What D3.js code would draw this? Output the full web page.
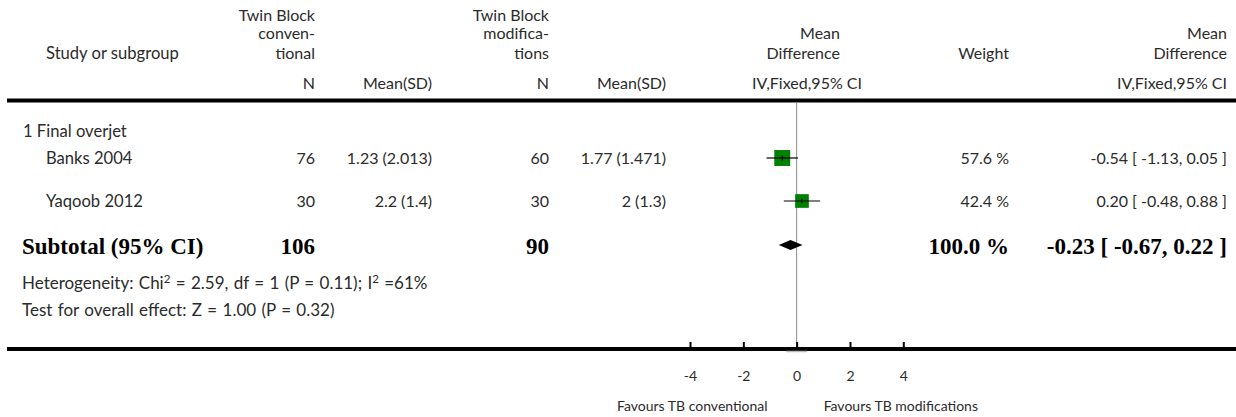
<!DOCTYPE html>
<html>
<head>
<meta charset="utf-8">
<script src="https://cdn.jsdelivr.net/npm/d3@7"></script>
<style>
  html, body { margin: 0; padding: 0; background: #fff; }
  svg text { font-family: Lato, "Open Sans", sans-serif; }
</style>
</head>
<body>
<svg id="forest" width="1236" height="417"></svg>
<script>
// Study-level data for outcome 1: Final overjet
const subgroup = "1 Final overjet";
const studies = ["Banks 2004", "Yaqoob 2012"];
const nConv = [76, 30];
const meanConv = [1.23, 2.2];
const sdConv = [2.013, 1.4];
const nMod = [60, 30];
const meanMod = [1.77, 2];
const sdMod = [1.471, 1.3];
const weights = [57.6, 42.4];
const md = [-0.54, 0.20];
const ciLow = [-1.13, -0.48];
const ciHigh = [0.05, 0.88];

// Pooled (fixed-effect) subtotal
const totalConv = 106;
const totalMod = 90;
const totalWeight = 100.0;
const pooled = [-0.23, -0.67, 0.22];
const heterogeneity = { chi2: "2.59", df: "1", p: "0.11", i2: "61%" };
const overall = { z: "1.00", p: "0.32" };

// Axis
const axisTicks = [-4, -2, 0, 2, 4];
const favourLeft = "Favours TB conventional";
const favourRight = "Favours TB modifications";

const svg = d3.select("#forest");
const ink = "#2b2b2b";
const fs = 16;

const x = d3.scaleLinear().domain([-4, 4]).range([690, 903.3]);
const boxSize = d3.scaleSqrt().domain([0, 100]).range([0, 21]);

const rowY = d3.scaleOrdinal().domain(studies).range([158, 201]);
const yGroup = 131.5, ySub = 246, yHet = 283, yTest = 310;
const yHeadLine = 100.5, yAxis = 349;

function txt(xp, yp, s, anchor, opts = {}) {
  const t = svg.append("text")
    .attr("x", xp).attr("y", yp).attr("dy", "0.35em")
    .attr("text-anchor", anchor || "start")
    .attr("fill", opts.fill || ink)
    .style("font-size", (opts.size || fs) + "px");
  if (opts.wordSpacing) t.style("word-spacing", opts.wordSpacing + "px");
  if (opts.bold) {
    t.style("font-family", "'Liberation Serif', 'Times New Roman', serif")
     .style("font-weight", "bold").attr("fill", "#000");
  }
  t.text(s);
  return t;
}

// Column positions (right edges unless noted)
const col = { left: 22, study: 46, n1: 315, m1: 432, n2: 549, m2: 666, md: 840, mdSub: 862, w: 1009, ci: 1227 };

// Header block
txt(col.study, 53, "Study or subgroup", "start", { size: 16.6 });
[["Twin Block", 15], ["conven-", 33.5], ["tional", 53]].forEach(([s, yy]) => txt(col.n1, yy, s, "end"));
[["Twin Block", 15], ["modifica-", 33.5], ["tions", 53]].forEach(([s, yy]) => txt(col.n2, yy, s, "end"));
txt(col.n1, 83, "N", "end");
txt(col.m1, 83, "Mean(SD)", "end");
txt(col.n2, 83, "N", "end");
txt(col.m2, 83, "Mean(SD)", "end");
txt(col.md, 33.5, "Mean", "end");
txt(col.md, 53, "Difference", "end");
txt(col.mdSub, 83, "IV,Fixed,95% CI", "end");
txt(col.w, 53, "Weight", "end");
txt(col.ci, 33.5, "Mean", "end");
txt(col.ci, 53, "Difference", "end");
txt(col.ci, 83, "IV,Fixed,95% CI", "end");

// Rules
svg.append("line").attr("x1", 7).attr("x2", 1236)
  .attr("y1", yHeadLine).attr("y2", yHeadLine)
  .attr("stroke", "#000").attr("stroke-width", 4);

// Line of no effect
svg.append("line").attr("x1", x(0)).attr("x2", x(0))
  .attr("y1", yHeadLine + 2).attr("y2", yAxis)
  .attr("stroke", "#8c8c8c").attr("stroke-width", 1);

const fmt = v => v.toFixed(2);
const ciText = (m, lo, hi) => `${fmt(m)} [ ${fmt(lo)}, ${fmt(hi)} ]`;

// Subgroup label
txt(col.left + 1, yGroup, subgroup, "start", { size: 16.6 });

// Study rows
studies.forEach((s, i) => {
  const yy = rowY(s);
  txt(col.study, yy, s, "start", { size: 16.6 });
  txt(col.n1, yy, String(nConv[i]), "end");
  txt(col.m1, yy, `${meanConv[i]} (${sdConv[i]})`, "end");
  txt(col.n2, yy, String(nMod[i]), "end");
  txt(col.m2, yy, `${meanMod[i]} (${sdMod[i]})`, "end");
  txt(col.w, yy, `${weights[i].toFixed(1)} %`, "end");
  txt(col.ci, yy, ciText(md[i], ciLow[i], ciHigh[i]), "end");

  const b = boxSize(weights[i]);
  svg.append("rect")
    .attr("x", x(md[i]) - b / 2).attr("y", yy - b / 2)
    .attr("width", b).attr("height", b)
    .attr("fill", "#008000");
  svg.append("line")
    .attr("x1", x(ciLow[i])).attr("x2", x(ciHigh[i]))
    .attr("y1", yy).attr("y2", yy)
    .attr("stroke", "#000").attr("stroke-width", 1.2);
  svg.append("line")
    .attr("x1", x(md[i])).attr("x2", x(md[i]))
    .attr("y1", yy - 2.5).attr("y2", yy + 2.5)
    .attr("stroke", "#000").attr("stroke-width", 1);
});

// Subtotal row
txt(col.left, ySub, "Subtotal (95% CI)", "start", { bold: true, size: 23 });
txt(col.n1, ySub, String(totalConv), "end", { bold: true, size: 23 });
txt(col.n2, ySub, String(totalMod), "end", { bold: true, size: 23 });
txt(col.w, ySub, `${totalWeight.toFixed(1)} %`, "end", { bold: true, size: 23 });
txt(col.ci, ySub, ciText(pooled[0], pooled[1], pooled[2]), "end", { bold: true, size: 23 });

const dh = 5;
svg.append("path")
  .attr("d", d3.line()([
    [x(pooled[1]), ySub - 1], [x(pooled[0]), ySub - 1 - dh],
    [x(pooled[2]), ySub - 1], [x(pooled[0]), ySub - 1 + dh]
  ]) + "Z")
  .attr("fill", "#000");

// Heterogeneity and overall effect
const het = svg.append("text").attr("x", col.left).attr("y", yHet).attr("dy", "0.35em")
  .attr("fill", ink).style("font-size", "17px").style("word-spacing", "1px");
het.append("tspan").text("Heterogeneity: Chi");
het.append("tspan").attr("baseline-shift", "super").style("font-size", "11.5px").text("2");
het.append("tspan").text(` = ${heterogeneity.chi2}, df = ${heterogeneity.df} (P = ${heterogeneity.p}); I`);
het.append("tspan").attr("baseline-shift", "super").style("font-size", "11.5px").text("2");
het.append("tspan").text(` =${heterogeneity.i2}`);

txt(col.left, yTest, `Test for overall effect: Z = ${overall.z} (P = ${overall.p})`, "start",
  { size: 17, wordSpacing: 1 });

// Bottom axis
svg.append("line").attr("x1", 7).attr("x2", 1236)
  .attr("y1", yAxis).attr("y2", yAxis)
  .attr("stroke", "#000").attr("stroke-width", 4);
svg.append("line").attr("x1", x(0) - 10.5).attr("x2", x(0) + 10.5)
  .attr("y1", yAxis + 2.5).attr("y2", yAxis + 2.5)
  .attr("stroke", "#bdbdbd").attr("stroke-width", 1.5);

const axis = d3.axisBottom(x).tickValues(axisTicks)
  .tickFormat(d => String(d)).tickSize(-7).tickPadding(22);
const ag = svg.append("g").attr("transform", `translate(0,${yAxis})`).call(axis);
ag.select(".domain").remove();
ag.selectAll(".tick line").attr("stroke", "#000").attr("stroke-width", 2);
ag.selectAll(".tick text").attr("fill", ink)
  .style("font-family", "Lato, sans-serif").style("font-size", "14px");

txt(x(0) - 29, 406.5, favourLeft, "end", { size: 14 });
txt(x(0) + 27, 406.5, favourRight, "start", { size: 14 });
</script>
</body>
</html>
